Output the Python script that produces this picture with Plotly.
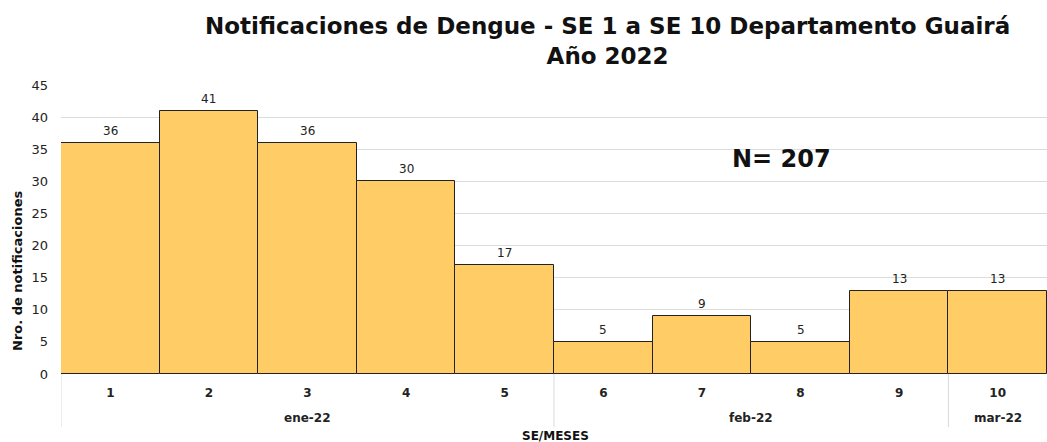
import plotly.graph_objects as go

semanas = ["1", "2", "3", "4", "5", "6", "7", "8", "9", "10"]
meses = ["ene-22"] * 5 + ["feb-22"] * 4 + ["mar-22"]
notificaciones = [36, 41, 36, 30, 17, 5, 9, 5, 13, 13]
total = 207

FONT = "DejaVu Sans"
W, H = 1047, 442
L, R, T, B = 61, 0, 85, 68
PW = W - L - R
PH = H - T - B

def py(pix):
    """screen pixel row -> paper y"""
    return (H - B - pix) / PH

def px(pix):
    """screen pixel column -> paper x"""
    return (pix - L) / PW

fig = go.Figure(
    go.Bar(
        x=list(range(len(semanas))),
        y=notificaciones,
        marker=dict(color="#FFCC66", line=dict(color="#222222", width=1)),
        hoverinfo="y",
    )
)

annotations = []
# value labels above bars
for i, v in enumerate(notificaciones):
    annotations.append(dict(
        text=str(v), x=i, y=v, xref="x", yref="y", showarrow=False,
        xanchor="center", yanchor="middle", yshift=12,
        font=dict(family=FONT, size=12, color="#222222"),
    ))

# month groups from data
grupos = []
for i, m in enumerate(meses):
    if grupos and grupos[-1][0] == m:
        grupos[-1][2] = i
    else:
        grupos.append([m, i, i])

shapes = []
for m, i0, i1 in grupos:
    annotations.append(dict(
        text="<b>%s</b>" % m, x=(i0 + i1) / 2, y=py(418), xref="x", yref="paper",
        showarrow=False, yanchor="middle", xanchor="center",
        font=dict(family=FONT, size=12, color="#222222"),
    ))
    shapes.append(dict(
        type="line", xref="x", yref="paper", x0=i0 - 0.5, x1=i0 - 0.5,
        y0=0, y1=py(427), line=dict(color="#d9d9d9", width=1),
    ))

annotations += [
    dict(
        text="<b>Notificaciones de Dengue - SE 1 a SE 10 Departamento Guairá<br>Año 2022</b>",
        x=px(607), y=py(41), xref="paper", yref="paper",
        showarrow=False, yanchor="middle", xanchor="center",
        font=dict(family=FONT, size=23, color="#111111"),
    ),
    dict(
        text="<b>N= %d</b>" % total,
        x=px(781), y=py(159), xref="paper", yref="paper",
        showarrow=False, yanchor="middle", xanchor="center",
        font=dict(family=FONT, size=24, color="#111111"),
    ),
    dict(
        text="<b>SE/MESES</b>",
        x=px(555), y=py(436), xref="paper", yref="paper",
        showarrow=False, yanchor="middle", xanchor="center",
        font=dict(family=FONT, size=12, color="#111111"),
    ),
    dict(
        text="<b>Nro. de notificaciones</b>",
        x=px(17), y=py(271), xref="paper", yref="paper",
        showarrow=False, textangle=-90, yanchor="middle", xanchor="center",
        font=dict(family=FONT, size=13, color="#111111"),
    ),
]

fig.update_layout(
    width=W,
    height=H,
    paper_bgcolor="white",
    plot_bgcolor="white",
    bargap=0,
    showlegend=False,
    margin=dict(l=L, r=R, t=T, b=B, autoexpand=False),
    font=dict(family=FONT, size=12, color="#222222"),
    xaxis=dict(
        tickmode="array",
        tickvals=list(range(len(semanas))),
        ticktext=["<b>%s</b>" % s for s in semanas],
        range=[-0.5, len(semanas) - 0.5],
        tickfont=dict(family=FONT, size=12, color="#222222"),
        ticks="",
        ticklabelstandoff=10,
        showline=False,
        showgrid=False,
        zeroline=False,
        automargin=False,
    ),
    yaxis=dict(
        range=[0, 45],
        dtick=5,
        showgrid=True,
        gridcolor="#dcdcdc",
        zeroline=False,
        showline=False,
        ticks="",
        ticklabelstandoff=12,
        tickfont=dict(family=FONT, size=13, color="#222222"),
        automargin=False,
    ),
    shapes=shapes,
    annotations=annotations,
)

fig.write_html(
    "out.html",
    config={"displayModeBar": False},
    post_script="document.body.style.margin='0px';document.body.style.overflow='hidden';",
)
